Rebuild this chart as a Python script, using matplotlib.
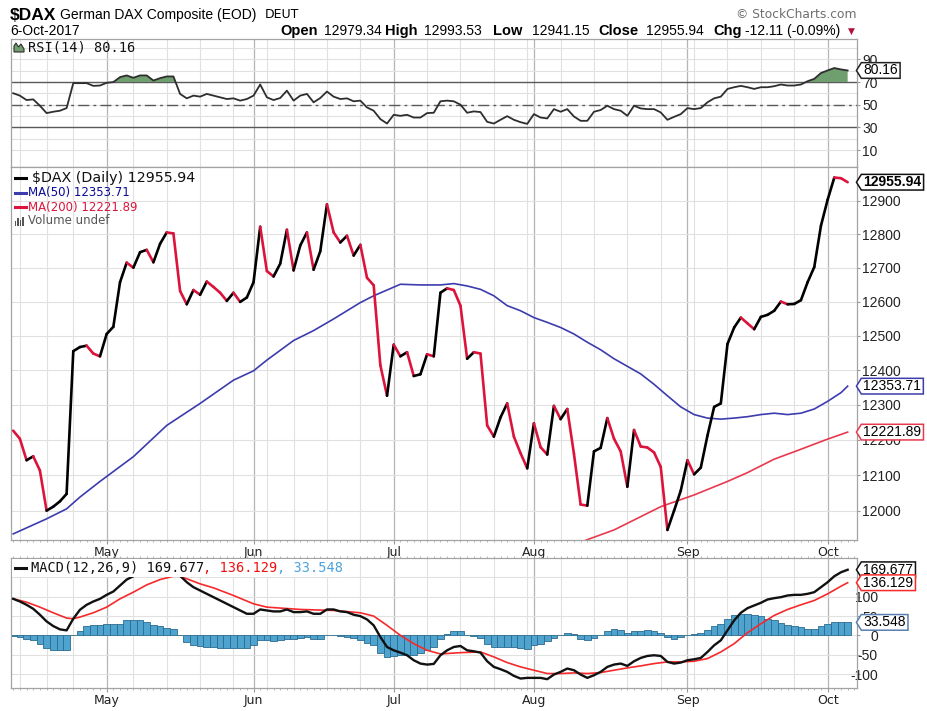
from __future__ import annotations

import matplotlib
matplotlib.use("Agg")
import matplotlib.pyplot as plt
import numpy as np
from matplotlib.collections import LineCollection
from matplotlib.lines import Line2D
from matplotlib.patches import Polygon, Rectangle
from matplotlib.path import Path
from matplotlib.ticker import FixedFormatter, FixedLocator, NullLocator

plt.rcParams["axes.unicode_minus"] = False
plt.rcParams["font.family"] = ["Liberation Sans", "DejaVu Sans"]

# =========================================================
# DATA  (trading-day index: 0 = 7-Apr-2017 ... 125 = 6-Oct-2017)
# =========================================================
close = [
    12226, 12203, 12142, 12153, 12113, 12000, 12011, 12026, 12047, 12455,
    12467, 12471, 12448, 12440, 12505, 12526, 12657, 12715, 12700, 12746,
    12753, 12716, 12771, 12805, 12802, 12631, 12592, 12634, 12620, 12659,
    12643, 12626, 12602, 12626, 12599, 12612, 12657, 12822, 12690, 12674,
    12712, 12813, 12692, 12766, 12805, 12694, 12749, 12889, 12805, 12775,
    12795, 12736, 12768, 12670, 12648, 12414, 12326, 12474, 12440, 12452,
    12383, 12388, 12446, 12440, 12626, 12639, 12634, 12588, 12433, 12452,
    12448, 12241, 12209, 12264, 12304, 12209, 12162, 12119, 12247, 12179,
    12158, 12297, 12259, 12288, 12160, 12017, 12014, 12167, 12177, 12262,
    12203, 12167, 12067, 12228, 12181, 12178, 12164, 12123, 11946, 12000,
    12056, 12142, 12102, 12121, 12212, 12294, 12304, 12476, 12524, 12553,
    12536, 12519, 12555, 12561, 12573, 12600, 12592, 12593, 12604, 12657,
    12702, 12825, 12903, 12970, 12968, 12955.94,
]

ma50_day = [0, 5, 8, 10, 13, 18, 23, 28, 33, 36, 38, 42, 45, 48, 52, 54, 58,
            61, 64, 66, 68, 70, 72, 74, 76, 78, 80, 82, 84, 86, 88, 90, 92,
            94, 96, 98, 100, 102, 104, 106, 108, 110, 112, 114, 116, 118,
            120, 122, 124, 125]
ma50 = [11935, 11977, 12005, 12038, 12082, 12152, 12241, 12304, 12371, 12398,
        12429, 12486, 12515, 12549, 12597, 12617, 12651, 12649, 12649, 12653,
        12646, 12636, 12617, 12588, 12573, 12553, 12539, 12524, 12505, 12481,
        12459, 12433, 12411, 12389, 12359, 12326, 12294, 12272, 12262, 12259,
        12262, 12266, 12272, 12276, 12272, 12276, 12288, 12310, 12335, 12353.71]

ma200_day = [84, 86, 90, 97, 102, 107, 110, 114, 117, 122, 125]
ma200 = [11903, 11919, 11946, 12011, 12044, 12082, 12107, 12145, 12166, 12202,
         12221.89]

rsi = [
    60.1, 58, 54.1, 54.7, 49.1, 42.6, 43.8, 44.7, 47, 69,
    69, 69, 66.6, 66.9, 69.3, 69.9, 74.3, 75.8, 73.7, 75.8,
    75.8, 71.3, 73.4, 74.9, 74.9, 59.5, 55.6, 58, 57.1, 59.5,
    58, 56.5, 55, 55.6, 53.6, 55, 58, 67.8, 56.5, 54.1,
    55.9, 62.4, 53.6, 58, 59.5, 52.1, 55.9, 61.6, 57.1, 55,
    55.6, 53, 53.6, 47.6, 44.7, 37.3, 33.4, 41.1, 40.2, 41.1,
    38.7, 38.7, 42.6, 42.9, 53, 53.6, 53, 50, 42.9, 44.1,
    43.5, 34.9, 33.4, 36.7, 39.9, 36.7, 34.6, 33.1, 41.7, 38.7,
    37.9, 46.1, 43.8, 46.1, 39.6, 35.8, 35.8, 43.8, 45.3, 49.1,
    46.1, 44.7, 40.2, 49.1, 46.7, 46.1, 46.1, 43.2, 36.7, 39.3,
    41.7, 47, 46.1, 47, 52.1, 55.6, 57.1, 63.9, 65.4, 66.6,
    65.4, 63.9, 65.4, 65.4, 66.3, 67.8, 66.9, 66.9, 67.8, 70.7,
    72.8, 77.9, 80.2, 82.3, 81.1, 80.16,
]

macd = [
    94.5, 87.6, 79, 68.7, 53.3, 36.1, 24, 15.5, 12.9, 43,
    66.2, 79, 87.6, 94.5, 104.8, 113.4, 128.9, 144.3, 152.9, 165,
    171, 172, 176, 178, 176, 154, 137.5, 124.6, 116, 107.4,
    98.8, 90.2, 81.6, 73, 64.4, 55.8, 55.8, 67, 64.4, 61.9,
    61.9, 67, 60.1, 60.1, 61.9, 55.8, 55.8, 67, 67, 61.9,
    60.1, 53.3, 49.8, 41.2, 25.8, -4.3, -30.1, -38.7, -44.7, -51.5,
    -64.4, -73, -75.6, -73.9, -51.5, -38.7, -30.1, -27.5, -38.7, -41.2,
    -44.7, -67, -81.6, -87.6, -94.5, -104.8, -111.7, -110, -110, -110,
    -113.4, -101.4, -94.5, -85.9, -90.2, -101.4, -110, -103.1, -94.5, -81.6,
    -75.6, -73, -79, -67, -58.4, -53.3, -51.5, -53.3, -68.7, -73,
    -70.4, -64.4, -61.9, -58.4, -43, -25.8, -12.9, 12.9, 38.7, 58.4,
    70.4, 77.3, 84.2, 92.8, 96.2, 98.8, 103.1, 104.8, 104.8, 107.4,
    111.7, 124.6, 137.5, 152.9, 163.2, 169.677,
]

signal_day = [0, 2, 4, 6, 8, 9, 10, 12, 14, 16, 18, 20, 22, 24, 25, 28, 30,
              33, 36, 38, 43, 48, 52, 54, 56, 58, 60, 62, 64, 67, 70, 72, 74,
              76, 78, 80, 82, 84, 86, 88, 90, 92, 94, 96, 98, 100, 102, 104,
              106, 108, 110, 112, 114, 116, 118, 120, 122, 124, 125]
signal = [94.5, 85.9, 73, 58.4, 44.7, 43, 47.3, 58.4, 73, 94.5,
          111.7, 130.6, 144.3, 152.9, 152.9, 133.2, 122.9, 103.1, 81.6, 73,
          67, 64.4, 58.4, 49.8, 25.8, 0, -21.5, -38.7, -48.1, -44.7,
          -43, -55.8, -70.4, -81.6, -90.2, -98.8, -98.8, -97.1, -98.8, -96.2,
          -90.2, -84.2, -79, -73, -68.7, -68.7, -67, -60.1, -43, -21.5,
          6.9, 30.1, 51.5, 67, 79, 90.2, 107.4, 127.1, 136.129]

hist = [
    -1, -4, -8.6, -13, -21.5, -32.6, -37, -37, -37, 0,
    10, 23, 25.8, 25.8, 28.4, 30, 30, 38.7, 38.7, 38.7,
    34.4, 27.5, 23, 18.9, 15.5, 0, -17.2, -24, -27.5, -30,
    -30, -32.6, -32.6, -32.6, -32.6, -32.6, -25.8, -12.9, -12.9, -15.5,
    -12.9, -8.6, -10.3, -6.9, -4.3, -8.6, -8.6, 1.7, 1.7, -1.7,
    -4.3, -6.9, -12.9, -18.9, -24, -44.7, -55.8, -53.3, -51.5, -51.5,
    -49.8, -44.7, -38.7, -30, -10.3, 4.3, 10.3, 10.3, 1.7, -2.6,
    -6.9, -21.5, -30, -30, -30, -30, -32.6, -34.4, -25.8, -21.5,
    -15.5, -6.9, 0, 6.9, 4.3, -8.6, -12.9, -6.9, 0, 10.3,
    15.5, 12.9, 6.9, 10.3, 10.3, 12.9, 10.3, 6.9, -4.3, -8.6,
    -4.3, 1.7, 4.3, 6.9, 12.9, 24, 30, 43, 51.5, 55.8,
    55.8, 53.3, 49.8, 43, 38.7, 32.6, 27.5, 24, 21.5, 15.5,
    15.5, 24, 30, 34.4, 34.4, 33.548,
]

month_day = [14, 36, 57, 78, 101, 122]
month_name = ["May", "Jun", "Jul", "Aug", "Sep", "Oct"]
week_day = [1, 5, 9, 18, 23, 28, 33, 38, 42, 47, 52, 62, 67, 72, 77, 82, 87,
            92, 97, 102, 107, 112, 117]

price_ticks = [12000, 12100, 12200, 12300, 12400, 12500, 12600, 12700, 12800, 12900]
rsi_ticks = [10, 30, 50, 70, 90]
macd_ticks = [-100, -50, 0, 50, 100]

# =========================================================
# STYLE
# =========================================================
W, H = 927, 711
UP = "#000000"
DOWN = "#dc143c"
MA50_C = "#3c3cae"
MA200_C = "#e8394f"
SIG_C = "#f52a2a"
HIST_FC = "#4fa3cf"
HIST_EC = "#2c6b8e"
RSI_FILL = "#6f9f6f"
GRID = "#e1e1e1"
MONTH_GRID = "#b5b5b5"
SPINE = "#a3a3a3"
LEGEND_FONT = "DejaVu Sans"


def fx(x):
    return x / W


def fy(y):
    return 1 - y / H


def tag_box(x0, y0, width, height, mutation_size):
    pad = 0.15 * mutation_size
    x0, y0 = x0 - pad, y0 - 0.4 * pad
    x1, y1 = x0 + width + 2 * pad, y0 + height + 0.8 * pad
    tip = 0.35 * mutation_size
    ym = (y0 + y1) / 2
    return Path([(x0, y0), (x1, y0), (x1, y1), (x0, y1), (x0 - tip, ym),
                 (x0, y0), (x0, y0)], closed=True)


def value_tag(ax, y, text, edge, bold=False):
    ax.annotate(text, xy=(1, y), xycoords=ax.get_yaxis_transform(),
                xytext=(4.6, 0), textcoords="offset points",
                ha="left", va="center", fontsize=10,
                fontweight="bold" if bold else "normal",
                bbox=dict(boxstyle=tag_box, fc="white", ec=edge, lw=1.1),
                annotation_clip=False, zorder=6)


def style_panel(ax, show_months):
    ax.set_xlim(-0.33, 126.4)
    for d in week_day:
        ax.axvline(d, color=GRID, lw=0.8, zorder=0)
    for d in month_day:
        ax.axvline(d, color=MONTH_GRID, lw=0.9, zorder=0)
    ax.set_xticks(month_day)
    ax.set_xticks(np.arange(0, 127), minor=True)
    if show_months:
        ax.set_xticklabels(month_name, fontsize=9, family=LEGEND_FONT, color="#222222")
        ax.tick_params(axis="x", which="major", length=3, color="#999999", pad=1)
        ax.tick_params(axis="x", which="minor", length=1.6, color="#aaaaaa")
    else:
        ax.set_xticklabels([])
        ax.tick_params(axis="x", which="both", length=0)
    ax.yaxis.tick_right()
    ax.tick_params(axis="y", which="major", length=2.2, color="#999999",
                   labelsize=10, labelcolor="#222222", pad=1.4)
    for s in ax.spines.values():
        s.set_color(SPINE)
        s.set_linewidth(0.9)


fig = plt.figure(figsize=(W / 100, H / 100), dpi=100)
fig.patch.set_facecolor("white")

ax_rsi = fig.add_axes([fx(11), fy(167), 846 / W, 128 / H])
ax_px = fig.add_axes([fx(11), fy(540), 846 / W, 373 / H])
ax_macd = fig.add_axes([fx(11), fy(688), 846 / W, 130 / H])

x = np.arange(len(close))

# =========================================================
# RSI
# =========================================================
style_panel(ax_rsi, False)
ax_rsi.set_ylim(-4.9, 107.9)
for v in range(10, 101, 10):
    ax_rsi.axhline(v, color=GRID, lw=0.8, zorder=0)
ax_rsi.axhline(70, color="#5a5a5a", lw=1.0, zorder=1)
ax_rsi.axhline(30, color="#5a5a5a", lw=1.0, zorder=1)
ax_rsi.axhline(50, color="#5a5a5a", lw=1.0, ls=(0, (8, 3, 2, 3)), zorder=1)
rsi_arr = np.array(rsi)
ax_rsi.fill_between(x, rsi_arr, 70, where=rsi_arr > 70, interpolate=True,
                    color=RSI_FILL, lw=0, zorder=2)
ax_rsi.plot(x, rsi_arr, color="#2e2e2e", lw=1.3, zorder=3)
ax_rsi.yaxis.set_major_locator(FixedLocator(rsi_ticks))
ax_rsi.yaxis.set_major_formatter(FixedFormatter([str(t) for t in rsi_ticks]))
value_tag(ax_rsi, rsi[-1], "80.16", "#222222")

# =========================================================
# PRICE
# =========================================================
style_panel(ax_px, True)
ax_px.set_yscale("log")
ax_px.set_ylim(11918, 13002)
for v in price_ticks:
    ax_px.axhline(v, color=GRID, lw=0.8, zorder=0)
ax_px.yaxis.set_major_locator(FixedLocator(price_ticks))
ax_px.yaxis.set_major_formatter(FixedFormatter([str(t) for t in price_ticks]))
ax_px.yaxis.set_minor_locator(NullLocator())

ax_px.plot(ma50_day, ma50, color=MA50_C, lw=1.2, zorder=2)
ax_px.plot(ma200_day, ma200, color=MA200_C, lw=1.2, zorder=2)

pts = np.column_stack([x, close])
segs = np.stack([pts[:-1], pts[1:]], axis=1)
seg_cols = [UP if b >= a else DOWN for a, b in zip(close[:-1], close[1:])]
ax_px.add_collection(LineCollection(segs, colors=seg_cols, linewidths=1.9,
                                    capstyle="round", joinstyle="round", zorder=3))

value_tag(ax_px, close[-1], "12955.94", "#111111", bold=True)
value_tag(ax_px, ma50[-1], "12353.71", MA50_C)
value_tag(ax_px, ma200[-1], "12221.89", MA200_C)

# =========================================================
# MACD
# =========================================================
style_panel(ax_macd, True)
ax_macd.set_ylim(-136.2, 200.1)
for v in [-100, -50, 0, 50, 100, 150]:
    ax_macd.axhline(v, color=GRID, lw=0.8, zorder=0)
ax_macd.bar(x, hist, width=1.0, color=HIST_FC, edgecolor=HIST_EC, lw=0.6, zorder=1)
ax_macd.plot(signal_day, signal, color=SIG_C, lw=1.2, zorder=2)
ax_macd.plot(x, macd, color="#111111", lw=1.7, zorder=3)
ax_macd.yaxis.set_major_locator(FixedLocator(macd_ticks))
ax_macd.yaxis.set_major_formatter(FixedFormatter([str(t) for t in macd_ticks]))
ax_macd.tick_params(axis="x", which="both", top=True)
ax_macd.tick_params(axis="y", pad=12.9)
for lbl in ax_macd.get_yticklabels():
    lbl.set_horizontalalignment("right")

value_tag(ax_macd, macd[-1], "169.677", "#111111")
value_tag(ax_macd, signal[-1], "136.129", SIG_C)
value_tag(ax_macd, hist[-1], "33.548", "#5a7fb0")

# =========================================================
# HEADER
# =========================================================
fig.text(fx(10), fy(15), "$DAX", fontsize=12.5, fontweight="bold", va="center")
fig.text(fx(60), fy(15), "German DAX Composite (EOD)", fontsize=10, va="center")
fig.text(fx(265), fy(15), "DEUT", fontsize=9, family=LEGEND_FONT, va="center")
fig.text(fx(857), fy(14), "\u00a9 StockCharts.com", fontsize=8.8, family=LEGEND_FONT,
         color="#6e6e6e", ha="right", va="center")
fig.text(fx(10), fy(31), "6-Oct-2017", fontsize=10, va="center")

header_parts = [
    (280, "Open", True), (324, "12979.34", False),
    (385, "High", True), (424, "12993.53", False),
    (493, "Low", True), (532, "12941.15", False),
    (598, "Close", True), (646, "12955.94", False),
    (713, "Chg", True), (745, "-12.11 (-0.09%)", False),
]
for hx, txt, bold in header_parts:
    fig.text(fx(hx), fy(31), txt, fontsize=10.5 if bold else 10,
             fontweight="bold" if bold else "normal", va="center")
fig.text(fx(851), fy(31), "\u25bc", fontsize=6.5, family=LEGEND_FONT,
         color="#b0103a", ha="center", va="center")

# =========================================================
# PANEL LABELS
# =========================================================
# RSI icon + label
fig.add_artist(Polygon([(fx(14), fy(52)), (fx(14), fy(46)), (fx(16), fy(43)),
                        (fx(18.5), fy(47)), (fx(21), fy(44)), (fx(24), fy(49)),
                        (fx(24), fy(52))], closed=True, transform=fig.transFigure,
                       fc=RSI_FILL, ec="#2e2e2e", lw=0.8))
fig.text(fx(28), fy(47.5), "RSI(14) 80.16", fontsize=9.8, family="DejaVu Sans Mono",
         color="#111111", va="center")

# price legend
legend_rows = [
    (178, UP, "$DAX (Daily) 12955.94", "#111111", 10.3, 32),
    (192.5, MA50_C, "MA(50) 12353.71", "#0a0a96", 8.5, 28),
    (207, DOWN, "MA(200) 12221.89", DOWN, 8.5, 28),
]
for ly, lc, txt, tc, fs, tx in legend_rows:
    fig.add_artist(Line2D([fx(15), fx(25.5)], [fy(ly), fy(ly)], transform=fig.transFigure,
                          color=lc, lw=2.2))
    fig.text(fx(tx), fy(ly), txt, fontsize=fs, family=LEGEND_FONT, color=tc, va="center")
for bx, bh in [(14.5, 5), (17, 8), (19.5, 6), (22, 9)]:
    fig.add_artist(Rectangle((fx(bx), fy(226)), 1.8 / W, bh / H, transform=fig.transFigure,
                             fc="#555555", ec="none"))
fig.text(fx(28), fy(221), "Volume undef", fontsize=8.5, family=LEGEND_FONT,
         color="#555555", va="center")

# MACD label on white background
fig.add_artist(Rectangle((fx(12), fy(577)), 334 / W, 18 / H, transform=fig.transFigure,
                         fc="white", ec="none", zorder=1))
fig.add_artist(Line2D([fx(15), fx(25.5)], [fy(568), fy(568)], transform=fig.transFigure,
                      color="#111111", lw=2.2, zorder=2))
cw = 0.602 * 9.8 * 100 / 72
mx = 31
for txt, col in [("MACD(12,26,9) 169.677", "#111111"), (", 136.129", "#ee1111"),
                 (", 33.548", "#4aa3df")]:
    fig.text(fx(mx), fy(568), txt, fontsize=9.8, family="DejaVu Sans Mono",
             color=col, va="center", zorder=3)
    mx += cw * len(txt)

fig.savefig("out.png", dpi=100, facecolor="white")
